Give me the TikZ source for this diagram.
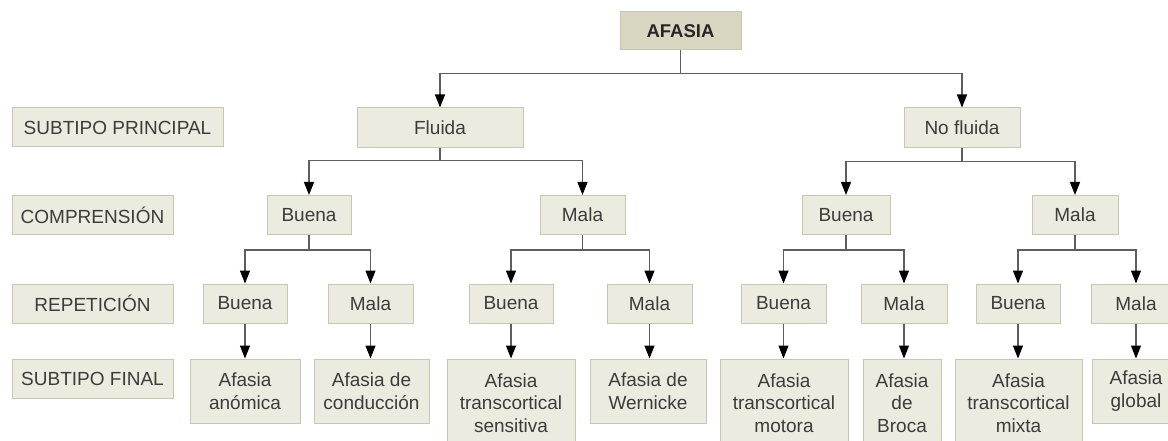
\documentclass[tikz,border=0pt]{standalone}
\usepackage{fontspec}
\setmainfont{Liberation Sans}
\usetikzlibrary{arrows.meta}
\definecolor{boxfill}{HTML}{ECEBE0}
\definecolor{boxline}{HTML}{C8C6B3}
\definecolor{rootfill}{HTML}{D9D6C1}
\definecolor{linegray}{HTML}{5E5E5E}
\definecolor{txtgray}{HTML}{3C3C3C}

\begin{document}
\begin{tikzpicture}[x=1pt, y=-1pt, font=\fontsize{19}{22.5}\selectfont]
            \useasboundingbox (0,0) rectangle (1168,441);
            \clip (0,0) rectangle (1168,441);

            \begin{scope}[every node/.style={rectangle,draw=boxline,line width=1pt,fill=boxfill,
                          text=txtgray,inner sep=0pt,align=center,minimum height=39pt}]
                \node (AF) [fill=rootfill, text=black!85, minimum width=121pt, minimum height=38pt,
                            font=\fontsize{18.5}{22.5}\selectfont\bfseries] at (680.5, 31) {AFASIA};

                % row labels
                \node (L1) [minimum width=211pt] at (117.5, 127.5) {SUBTIPO PRINCIPAL};
                \node (L2) [minimum width=161pt] at (92.5, 215) {COMPRENSIÓN};
                \node (L3) [minimum width=161pt] at (92.5, 303.5) {REPETICIÓN};
                \node (L4) [minimum width=161pt] at (92.5, 379) {SUBTIPO FINAL};

                % subtipo principal
                \node (F) [minimum width=166pt, minimum height=40pt] at (440, 128) {Fluida};
                \node (NF) [minimum width=116pt, minimum height=40pt] at (962, 128) {No fluida};

                % comprension
                \node (FB) [minimum width=84pt] at (309, 215) {Buena};
                \node (FM) [minimum width=85pt] at (582.5, 215) {Mala};
                \node (NB) [minimum width=88pt] at (846, 215) {Buena};
                \node (NM) [minimum width=86pt] at (1075, 215) {Mala};

                % repeticion
                \node (FBB) [minimum width=84pt] at (245, 303.5) {Buena};
                \node (FBM) [minimum width=85pt] at (370.5, 303.5) {Mala};
                \node (FMB) [minimum width=84pt] at (511, 303.5) {Buena};
                \node (FMM) [minimum width=85pt] at (649.5, 303.5) {Mala};
                \node (NBB) [minimum width=85pt] at (783.5, 303.5) {Buena};
                \node (NBM) [minimum width=86pt] at (904, 303.5) {Mala};
                \node (NMB) [minimum width=84pt] at (1018, 303.5) {Buena};
                \node (NMM) [minimum width=90pt] at (1136, 303.5) {Mala};

                % subtipo final
                \node (S1) [minimum width=110pt, minimum height=64pt] at (245, 391) {Afasia\\anómica};
                \node (S2) [minimum width=115pt, minimum height=64pt] at (371.5, 391) {Afasia de\\conducción};
                \node (S3) [minimum width=128pt, minimum height=88pt] at (511, 403) {Afasia\\transcortical\\sensitiva};
                \node (S4) [minimum width=116pt, minimum height=64pt] at (648, 391) {Afasia de\\Wernicke};
                \node (S5) [minimum width=128pt, minimum height=88pt] at (784, 403) {Afasia\\transcortical\\motora};
                \node (S6) [minimum width=78pt, minimum height=88pt] at (902, 403) {Afasia\\de\\Broca};
                \node (S7) [minimum width=127pt, minimum height=88pt] at (1018.5, 403) {Afasia\\transcortical\\mixta};
                \node (S8) [minimum width=88pt, minimum height=64pt] at (1136, 391) {Afasia\\global};
            \end{scope}

            \begin{scope}[every path/.style={draw=linegray, line width=1.3pt},
                          ->/.style={-{Triangle[width=10pt,length=13pt,color=black]}}]
                \path [->] (AF.south) -- ++(0,23) -| (F.north);
                \path [->] (AF.south) -- ++(0,23) -| (NF.north);

                \path [->] (F.south) -- ++(0,12) -| (FB.north);
                \path [->] (F.south) -- ++(0,12) -| (FM.north);
                \path [->] (NF.south) -- ++(0,13) -| (NB.north);
                \path [->] (NF.south) -- ++(0,13) -| (NM.north);

                \path [->] (FB.south) -- ++(0,15) -| (FBB.north);
                \path [->] (FB.south) -- ++(0,15) -| (FBM.north);
                \path [->] (FM.south) -- ++(0,15) -| (FMB.north);
                \path [->] (FM.south) -- ++(0,15) -| (FMM.north);
                \path [->] (NB.south) -- ++(0,15) -| (NBB.north);
                \path [->] (NB.south) -- ++(0,15) -| (NBM.north);
                \path [->] (NM.south) -- ++(0,15) -| (NMB.north);
                \path [->] (NM.south) -- ++(0,15) -| (NMM.north);

                \path [->] (FBB.south) -- (FBB.south |- S1.north);
                \path [->] (FBM.south) -- (FBM.south |- S2.north);
                \path [->] (FMB.south) -- (FMB.south |- S3.north);
                \path [->] (FMM.south) -- (FMM.south |- S4.north);
                \path [->] (NBB.south) -- (NBB.south |- S5.north);
                \path [->] (NBM.south) -- (NBM.south |- S6.north);
                \path [->] (NMB.south) -- (NMB.south |- S7.north);
                \path [->] (NMM.south) -- (NMM.south |- S8.north);
            \end{scope}
        \end{tikzpicture}
\end{document}
